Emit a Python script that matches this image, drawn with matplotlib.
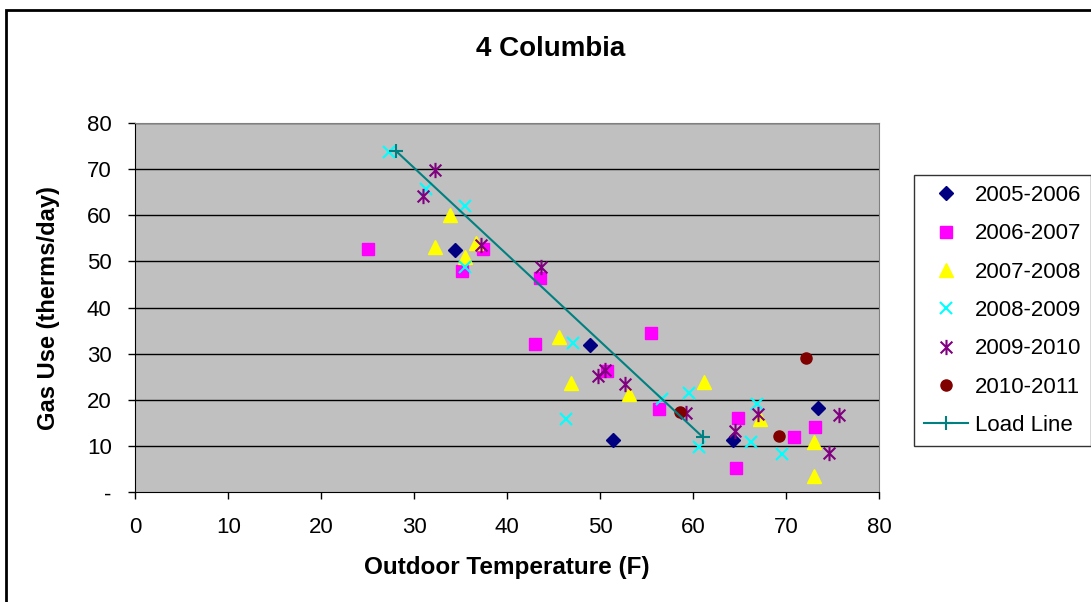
import matplotlib.pyplot as plt
from matplotlib.path import Path
from matplotlib.patches import Rectangle

plt.rcParams['font.family'] = ['Liberation Sans', 'DejaVu Sans']

# data
x_0506 = [34.4, 48.9, 51.4, 64.3, 73.4]
y_0506 = [52.5, 31.9, 11.3, 11.3, 18.2]

x_0607 = [25.0, 35.1, 37.4, 43.5, 43.0, 55.5, 50.7, 56.3, 64.8, 64.6, 70.8, 73.1]
y_0607 = [52.7, 48.0, 52.7, 46.4, 32.1, 34.5, 26.3, 18.0, 16.2, 5.3, 11.9, 14.2]

x_0708 = [33.8, 32.2, 36.6, 35.5, 45.6, 46.9, 53.1, 61.2, 67.2, 73.0, 73.0]
y_0708 = [60.1, 53.2, 54.0, 50.9, 33.7, 23.7, 21.2, 24.0, 15.8, 11.0, 3.5]

x_0809 = [27.3, 31.3, 35.5, 35.5, 47.1, 46.3, 56.6, 59.5, 60.6, 66.8, 66.2, 69.5]
y_0809 = [73.8, 65.7, 62.0, 48.9, 32.3, 15.9, 20.2, 21.5, 9.8, 19.1, 11.0, 8.2]

x_0910 = [32.2, 30.9, 37.2, 43.6, 50.5, 49.8, 52.7, 59.2, 64.5, 67.0, 75.7, 74.6]
y_0910 = [69.8, 64.1, 53.6, 48.7, 26.5, 25.3, 23.4, 17.2, 13.3, 17.0, 16.7, 8.6]

x_1011 = [58.6, 69.2, 72.1]
y_1011 = [17.3, 12.2, 29.0]

load_x = [28.0, 61.0]
load_y = [74.0, 12.0]

y_ticks = [0, 10, 20, 30, 40, 50, 60, 70, 80]
y_ticklabels = ['-', '10', '20', '30', '40', '50', '60', '70', '80']

# asterisk marker (x with a vertical bar), like excel
star = Path([(-1, -1), (1, 1), (-1, 1), (1, -1), (0, -1.3), (0, 1.3)],
            [Path.MOVETO, Path.LINETO, Path.MOVETO, Path.LINETO, Path.MOVETO, Path.LINETO])

fig = plt.figure(figsize=(10.91, 6.02), dpi=100)
fig.patches.append(Rectangle((6 / 1091, -0.1), 1.2, 1 - 10 / 602 + 0.1,
                             transform=fig.transFigure, fill=False,
                             edgecolor='black', linewidth=2))

ax = fig.add_axes([135.3 / 1091, 1 - 492.3 / 602, 744 / 1091, 369.3 / 602])
ax.set_facecolor('#C0C0C0')

ax.plot(x_0506, y_0506, ls='none', marker='D', ms=7, color='#000080', label='2005-2006')
ax.plot(x_0607, y_0607, ls='none', marker='s', ms=8, color='#FF00FF', label='2006-2007')
ax.plot(x_0708, y_0708, ls='none', marker='^', ms=10, color='#FFFF00', label='2007-2008')
ax.plot(x_0809, y_0809, ls='none', marker='x', ms=9, mew=1.5, color='#00FFFF', label='2008-2009')
ax.plot(x_0910, y_0910, ls='none', marker=star, ms=11, mew=1.5, color='#800080', label='2009-2010')
ax.plot(x_1011, y_1011, ls='none', marker='o', ms=8, color='#800000', label='2010-2011')
ax.plot(load_x, load_y, color='#008080', lw=1.5, marker='+', ms=10, mew=1.5, label='Load Line')

ax.set_xlim(0, 80)
ax.set_ylim(0, 80)
ax.set_xticks(range(0, 81, 10))
ax.set_yticks(y_ticks)
ax.set_yticklabels(y_ticklabels)
ax.tick_params(direction='out', length=5, width=1, labelsize=16, pad=12)
ax.tick_params(axis='x', pad=13)

for v in y_ticks[1:]:
    ax.axhline(v, color='black', lw=1, zorder=0.5)
for s in ['top', 'right']:
    ax.spines[s].set_color('#808080')
for s in ['left', 'bottom']:
    ax.spines[s].set_color('black')

ax.set_xlabel('Outdoor Temperature (F)', fontsize=17.5, fontweight='bold', labelpad=13)
ax.set_ylabel('Gas Use (therms/day)', fontsize=17, fontweight='bold', labelpad=19)
fig.text(551 / 1091, 1 - 49 / 602, '4 Columbia', fontsize=20, fontweight='bold',
         ha='center', va='center')

leg = fig.legend(loc='upper left', bbox_to_anchor=(914 / 1091, 1 - 175 / 602),
                 fontsize=16, frameon=True, fancybox=False, edgecolor='black',
                 borderaxespad=0, handlelength=2.0, handletextpad=0.3,
                 labelspacing=0.78, borderpad=0.45)
leg.get_frame().set_linewidth(1)

plt.savefig('out.png', dpi=100)
